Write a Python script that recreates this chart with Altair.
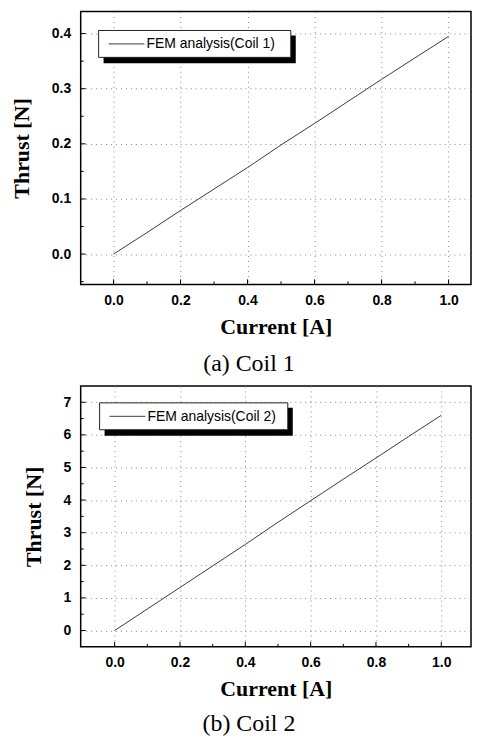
import altair as alt
import pandas as pd

current = [0.0, 0.1, 0.2, 0.3, 0.4, 0.5, 0.6, 0.7, 0.8, 0.9, 1.0]
thrust_coil1 = [0.0, 0.039, 0.079, 0.118, 0.157, 0.198, 0.237, 0.277, 0.317, 0.356, 0.395]
thrust_coil2 = [0.0, 0.66, 1.32, 1.98, 2.64, 3.32, 3.98, 4.64, 5.29, 5.95, 6.6]

x_ticks = [0.0, 0.2, 0.4, 0.6, 0.8, 1.0]
x_minor = [0.1, 0.3, 0.5, 0.7, 0.9]
y_ticks_1 = [0.0, 0.1, 0.2, 0.3, 0.4]
y_minor_1 = [-0.05, 0.05, 0.15, 0.25, 0.35]
y_ticks_2 = [0, 1, 2, 3, 4, 5, 6, 7]
y_minor_2 = [0.5, 1.5, 2.5, 3.5, 4.5, 5.5, 6.5]

legend_1 = "FEM analysis(Coil 1)"
legend_2 = "FEM analysis(Coil 2)"
caption_1 = "(a) Coil 1"
caption_2 = "(b) Coil 2"

LABEL_FONT = "Liberation Sans"
TITLE_FONT = "Liberation Serif"


def panel(values, xdom, ydom, w, h, yvals, yminor, yfmt, label, caption, leg, cap_dy):
    df = pd.DataFrame({"current": current, "thrust": values})
    x = alt.X("current:Q", scale=alt.Scale(domain=xdom, nice=False, zero=False),
              axis=alt.Axis(values=x_ticks, format=".1f", title="Current [A]"))
    y = alt.Y("thrust:Q", scale=alt.Scale(domain=ydom, nice=False, zero=False),
              axis=alt.Axis(values=yvals, format=yfmt, title="Thrust [N]"))
    line = alt.Chart(df).mark_line(color="#3a3a3a", strokeWidth=1.0, clip=True).encode(x=x, y=y)

    # inward tick marks along bottom and left frame
    xt_major = alt.Chart(pd.DataFrame({"current": x_ticks})).mark_rule(color="black").encode(
        x=x, y=alt.value(h), y2=alt.value(h - 5))
    xt_minor = alt.Chart(pd.DataFrame({"current": x_minor})).mark_rule(color="black").encode(
        x=x, y=alt.value(h), y2=alt.value(h - 3))
    yt_major = alt.Chart(pd.DataFrame({"thrust": yvals})).mark_rule(color="black").encode(
        y=y, x=alt.value(0), x2=alt.value(5))
    yt_minor = alt.Chart(pd.DataFrame({"thrust": yminor})).mark_rule(color="black").encode(
        y=y, x=alt.value(0), x2=alt.value(3))

    one = pd.DataFrame({"label": [label], "caption": [caption]})
    bx0, by0, bx1, by1 = leg
    shadow = alt.Chart(one).mark_rect(color="black").encode(
        x=alt.value(bx0 + 5), x2=alt.value(bx1 + 5), y=alt.value(by0 + 5), y2=alt.value(by1 + 6))
    box = alt.Chart(one).mark_rect(fill="white", stroke="#222", strokeWidth=1).encode(
        x=alt.value(bx0), x2=alt.value(bx1), y=alt.value(by0), y2=alt.value(by1))
    ym = (by0 + by1) / 2
    sample = alt.Chart(one).mark_rule(color="#3a3a3a", strokeWidth=1).encode(
        x=alt.value(bx0 + 10), x2=alt.value(bx0 + 46), y=alt.value(ym))
    text = alt.Chart(one).mark_text(align="left", baseline="middle", font=LABEL_FONT,
                                    fontSize=14, color="black").encode(
        x=alt.value(bx0 + 48), y=alt.value(ym + 0.5), text="label:N")
    cap = alt.Chart(one).mark_text(align="center", baseline="alphabetic", font=TITLE_FONT,
                                   fontSize=24, color="black").encode(
        x=alt.value(169), y=alt.value(h + cap_dy), text="caption:N")
    return alt.layer(line, xt_major, xt_minor, yt_major, yt_minor,
                     shadow, box, sample, text, cap).properties(width=w, height=h)


p1 = panel(thrust_coil1, [-0.098, 1.067], [-0.055, 0.44], 392, 274, y_ticks_1, y_minor_1, ".1f",
           legend_1, caption_1, (18, 19, 211, 46), 87)
p2 = panel(thrust_coil2, [-0.104, 1.091], [-0.5, 7.5], 392, 262, y_ticks_2, y_minor_2, "d",
           legend_2, caption_2, (19, 17, 208, 44), 85)

chart = alt.vconcat(p1, p2, spacing=102, bounds="flush").properties(
    padding={"left": 1, "top": 1, "right": 0, "bottom": 0}
).configure_view(
    stroke="black", strokeWidth=1.5
).configure_axis(
    domain=False, ticks=False,
    grid=True, gridColor="#8a8a8a", gridDash=[1, 4], gridWidth=1,
    labelFont=LABEL_FONT, labelFontWeight="bold", labelFontSize=14, labelColor="black",
    titleFont=TITLE_FONT, titleFontWeight="bold", titleFontSize=22, titleColor="black",
).configure_axisX(
    labelPadding=9, titlePadding=9
).configure_axisY(
    labelPadding=10, titlePadding=18
)

chart.save("out.html", embed_options={"renderer": "svg", "actions": False})
